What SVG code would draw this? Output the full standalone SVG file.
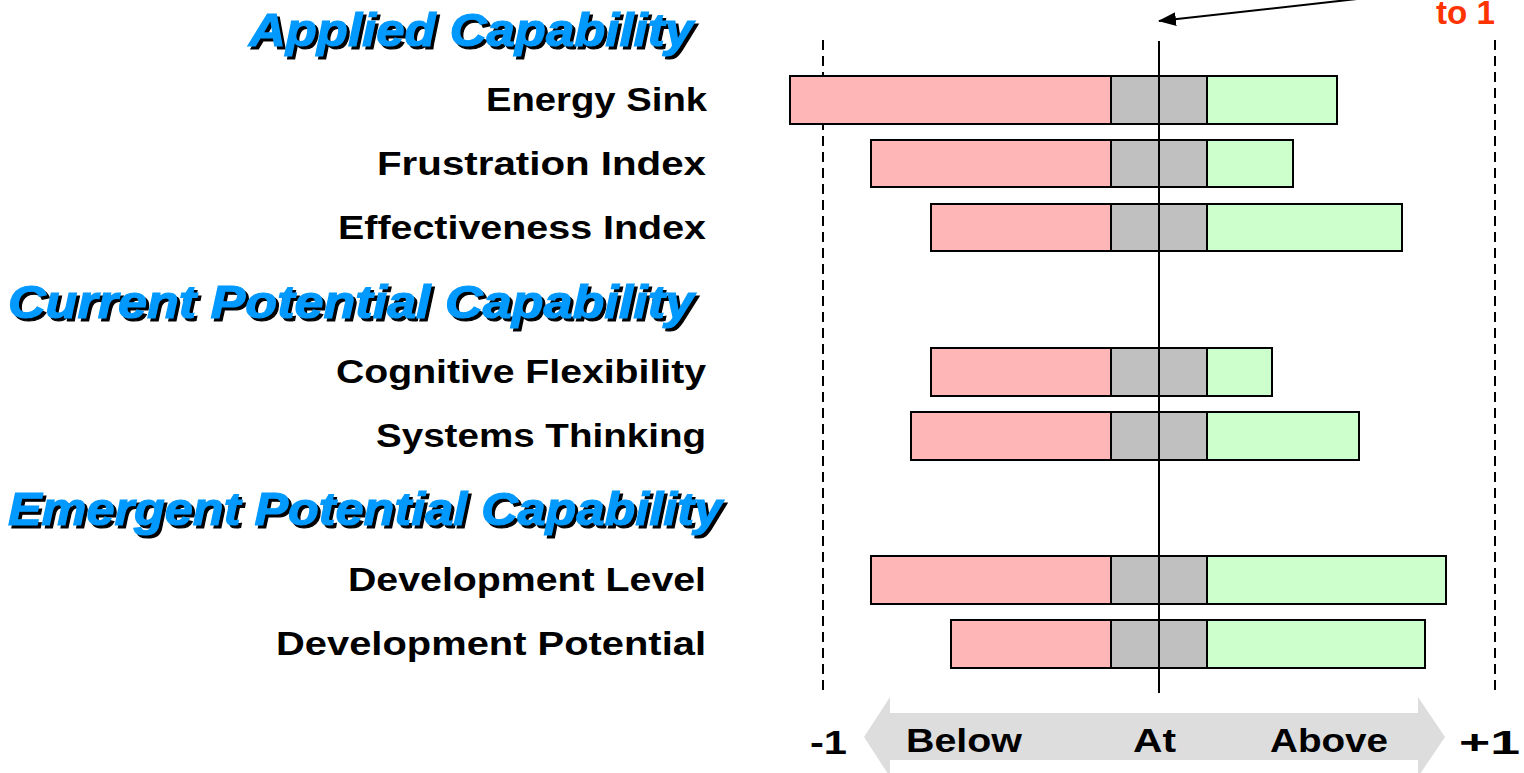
<svg xmlns="http://www.w3.org/2000/svg" width="1524" height="773" viewBox="0 0 1524 773">
<defs>
<style>
.lbl{font-family:"Liberation Sans",Arial,sans-serif;font-weight:bold;font-size:34px;fill:#000;text-anchor:end}
.hdr{font-family:"Liberation Sans",Arial,sans-serif;font-weight:bold;font-style:italic;font-size:47px;text-anchor:end;stroke-width:1.2}
.hb{fill:#0099FF;stroke:#0099FF}
.hs{fill:#000;stroke:#000}
.ax{font-family:"Liberation Sans",Arial,sans-serif;font-weight:bold;font-size:34px;fill:#000}
.neg{fill:#FFB6B6;stroke:#000;stroke-width:2}
.mid{fill:#C0C0C0;stroke:#000;stroke-width:2}
.pos{fill:#CCFFCC;stroke:#000;stroke-width:2}
.dash{stroke:#000;stroke-width:2;stroke-dasharray:10 6;fill:none}
</style>
<marker id="ah" markerWidth="18" markerHeight="14" refX="17" refY="7" orient="auto" markerUnits="userSpaceOnUse">
<path d="M0,0 L18,7 L0,14 Z" fill="#000"/>
</marker>
</defs>
<rect width="1524" height="773" fill="#fff"/>

<g id="scale-arrow">
<path d="M864,737 L890,697 L890,713 L1418,713 L1418,697 L1445,737 L1418,777 L1418,760 L890,760 L890,777 Z" fill="#DDDDDD"/>
<text class="ax" x="906" y="752" textLength="116" lengthAdjust="spacingAndGlyphs">Below</text>
<text class="ax" x="1133" y="752" textLength="43" lengthAdjust="spacingAndGlyphs">At</text>
<text class="ax" x="1270" y="752" textLength="118" lengthAdjust="spacingAndGlyphs">Above</text>
<text class="ax" x="810" y="754" font-size="42" textLength="37" lengthAdjust="spacingAndGlyphs">-1</text>
<text class="ax" x="1459" y="754" font-size="42" textLength="61" lengthAdjust="spacingAndGlyphs">+1</text>
</g>

<g id="axes">
<line class="dash" x1="823" y1="40" x2="823" y2="693"/>
<line class="dash" x1="1495" y1="40" x2="1495" y2="693"/>
</g>

<g id="headers">
<g id="hdr-applied">
<text class="hdr hs" x="696" y="49" textLength="444" lengthAdjust="spacingAndGlyphs">Applied Capability</text>
<text class="hdr hb" x="693" y="46" textLength="444" lengthAdjust="spacingAndGlyphs">Applied Capability</text>
</g>
<g id="hdr-current">
<text class="hdr hs" x="697" y="321" textLength="686" lengthAdjust="spacingAndGlyphs">Current Potential Capability</text>
<text class="hdr hb" x="694" y="318" textLength="686" lengthAdjust="spacingAndGlyphs">Current Potential Capability</text>
</g>
<g id="hdr-emergent">
<text class="hdr hs" x="725" y="528" textLength="714" lengthAdjust="spacingAndGlyphs">Emergent Potential Capability</text>
<text class="hdr hb" x="722" y="525" textLength="714" lengthAdjust="spacingAndGlyphs">Emergent Potential Capability</text>
</g>
</g>

<g id="row-energy-sink">
<text class="lbl" x="707" y="111" textLength="221" lengthAdjust="spacingAndGlyphs">Energy Sink</text>
<rect class="neg" x="790" y="76" width="321" height="48"/>
<rect class="mid" x="1111" y="76" width="96" height="48"/>
<rect class="pos" x="1207" y="76" width="130" height="48"/>
</g>
<g id="row-frustration">
<text class="lbl" x="706" y="175" textLength="329" lengthAdjust="spacingAndGlyphs">Frustration Index</text>
<rect class="neg" x="871" y="140" width="240" height="47"/>
<rect class="mid" x="1111" y="140" width="96" height="47"/>
<rect class="pos" x="1207" y="140" width="86" height="47"/>
</g>
<g id="row-effectiveness">
<text class="lbl" x="706" y="239" textLength="368" lengthAdjust="spacingAndGlyphs">Effectiveness Index</text>
<rect class="neg" x="931" y="204" width="180" height="47"/>
<rect class="mid" x="1111" y="204" width="96" height="47"/>
<rect class="pos" x="1207" y="204" width="195" height="47"/>
</g>
<g id="row-cognitive">
<text class="lbl" x="706" y="383" textLength="370" lengthAdjust="spacingAndGlyphs">Cognitive Flexibility</text>
<rect class="neg" x="931" y="348" width="180" height="48"/>
<rect class="mid" x="1111" y="348" width="96" height="48"/>
<rect class="pos" x="1207" y="348" width="65" height="48"/>
</g>
<g id="row-systems">
<text class="lbl" x="706" y="447" textLength="330" lengthAdjust="spacingAndGlyphs">Systems Thinking</text>
<rect class="neg" x="911" y="412" width="200" height="48"/>
<rect class="mid" x="1111" y="412" width="96" height="48"/>
<rect class="pos" x="1207" y="412" width="152" height="48"/>
</g>
<g id="row-dev-level">
<text class="lbl" x="706" y="591" textLength="358" lengthAdjust="spacingAndGlyphs">Development Level</text>
<rect class="neg" x="871" y="556" width="240" height="48"/>
<rect class="mid" x="1111" y="556" width="96" height="48"/>
<rect class="pos" x="1207" y="556" width="239" height="48"/>
</g>
<g id="row-dev-potential">
<text class="lbl" x="706" y="655" textLength="430" lengthAdjust="spacingAndGlyphs">Development Potential</text>
<rect class="neg" x="951" y="620" width="160" height="48"/>
<rect class="mid" x="1111" y="620" width="96" height="48"/>
<rect class="pos" x="1207" y="620" width="218" height="48"/>
</g>

<g id="center-line">
<line x1="1159" y1="41" x2="1159" y2="693" stroke="#000" stroke-width="2"/>
</g>

<g id="connectors">
<line x1="1420" y1="-8" x2="1159" y2="21" stroke="#000" stroke-width="2" marker-end="url(#ah)"/>
</g>

<g id="note">
<text class="ax" x="1436" y="24" font-size="25" style="fill:#FF3300" textLength="59" lengthAdjust="spacingAndGlyphs">to 1</text>
</g>
</svg>
